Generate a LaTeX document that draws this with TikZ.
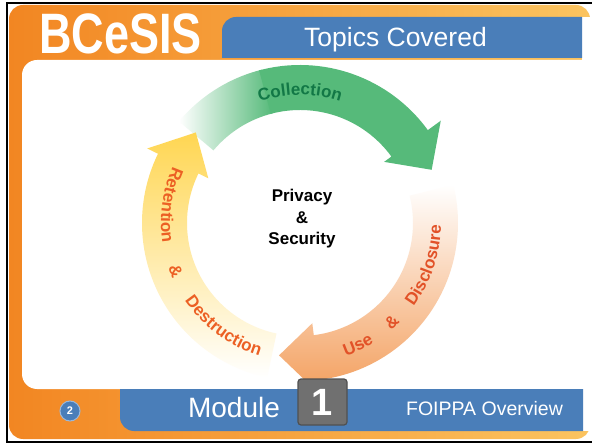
\documentclass[tikz,border=0pt]{standalone}
\usepackage{fontspec}
\setsansfont{Liberation Sans}
\usepackage{xcolor}
\usepackage{tikz}
\usetikzlibrary{decorations.text}
\usetikzlibrary{positioning}

\definecolor{bcorange}{RGB}{242,134,34}
\definecolor{bclight}{RGB}{251,196,96}
\definecolor{bcblue}{RGB}{74,126,185}
\definecolor{collgreen}{RGB}{86,186,122}
\definecolor{colltext}{RGB}{18,120,70}
\definecolor{useorange}{RGB}{243,158,92}
\definecolor{usetext}{RGB}{226,82,40}
\definecolor{retyellow}{RGB}{255,214,82}
\definecolor{rettext}{RGB}{236,96,36}
\definecolor{boxgray}{RGB}{112,112,112}
\definecolor{boxedge}{RGB}{80,80,80}

\newcommand{\ringfont}{\fontsize{17pt}{17pt}\selectfont\bfseries}

\begin{document}
\begin{tikzpicture}[
		x=1pt,
		y=1pt,
		/utils/exec={\sffamily},
		font=\fontsize{17pt}{21.5pt}\selectfont
	]
		\tikzset{
			bar/.style={fill=bcblue},
			bartext/.style={text=white, inner sep=0, anchor=base},
			ringtext/.style={decorate, decoration={text along path}},
			spreadtext/.style={ringtext, decoration={text align={fit to path stretching spaces}}}
		}

		\useasboundingbox (0,0) rectangle (592,445);

		% orange frame and white page
		\shade[left color=bcorange, right color=bclight, rounded corners=14] (9,6) rectangle (590,440);
		\fill[white] (582,14) rectangle (592,428);
		\fill[white] (592,385) -- (37,385) arc[start angle=90, end angle=180, radius=15]
			-- (22,71) arc[start angle=180, end angle=270, radius=15] -- (592,56) -- cycle;
		\draw[line width=2] (592,442) -- (7,442) -- (7,3) -- (592,3);

		% title bar
		\fill[bar] (582,387) -- (222,387) -- (222,414) arc[start angle=180, end angle=90, radius=14]
			-- (582,428) -- cycle;
		\node[bartext, font=\fontsize{57pt}{57pt}\selectfont\bfseries] (logo) at (120.5,391) {\scalebox{0.79}[1]{BCeSIS}};
		\node[bartext, font=\fontsize{26.5pt}{26.5pt}\selectfont] (topics) at (395.5,398) {Topics Covered};

		% cycle
		\begin{scope}[shift={(300,222)}]
			\shade[left color=white, right color=collgreen]
				(140:158) arc[start angle=140, end angle=104, radius=158]
				-- (104:113) arc[start angle=104, end angle=140, radius=113] -- cycle;
			\fill[collgreen]
				(105:158) arc[start angle=105, end angle=36, radius=158]
				-- (36:174) -- (22:142) -- (36:104)
				-- (36:113) arc[start angle=36, end angle=105, radius=113] -- cycle;
			\shade[top color=white, middle color=useorange!75, bottom color=useorange]
				(14:158) arc[start angle=14, end angle=-83, radius=158]
				-- (-83:174) -- (-99:134) -- (-83:101)
				-- (-83:113) arc[start angle=-83, end angle=14, radius=113] -- cycle;
			\shade[top color=retyellow, middle color=retyellow!85, bottom color=white]
				(258:158) arc[start angle=258, end angle=154, radius=158]
				-- (154:170) -- (139:138) -- (154:102)
				-- (154:113) arc[start angle=154, end angle=258, radius=113] -- cycle;

			\path[ringtext, decoration={text={|\ringfont|Collection}, text color=colltext, text align=center}]
				(120:128) arc[start angle=120, end angle=60, radius=128];
			\path[spreadtext, decoration={text={|\ringfont|Use {\&} Disclosure}, text color=usetext}]
				(-71:141) arc[start angle=-71, end angle=-1, radius=141];
			\path[spreadtext, decoration={text={|\ringfont|Retention {\&} Destruction}, text color=rettext}]
				(156:139) arc[start angle=156, end angle=253, radius=139];
		\end{scope}
		\node[align=center, font=\fontsize{17pt}{21.5pt}\selectfont\bfseries] (core) at (302,226) {Privacy\\\&\\Security};

		% module bar
		\fill[bar] (583,56) -- (120,56) -- (120,28) arc[start angle=180, end angle=270, radius=14]
			-- (583,14) -- cycle;
		\node[circle, fill=bcblue, draw=bcblue!55, line width=1, minimum size=20, inner sep=0,
			text=white, font=\fontsize{11pt}{11pt}\selectfont\bfseries] (pagenum) at (70,34) {2};
		\node[bartext, font=\fontsize{28pt}{28pt}\selectfont] (module) at (234,28) {Module};
		\node[draw=boxedge, fill=boxgray, line width=1.2, rounded corners=3, inner sep=0,
			minimum width=49, minimum height=46, text=white,
			font=\fontsize{38pt}{38pt}\selectfont\bfseries] (modnum) at (322.5,43) {1};
		\node[bartext, font=\fontsize{19.5pt}{19.5pt}\selectfont] (modtitle) at (484.5,30) {FOIPPA Overview};
	\end{tikzpicture}
\end{document}
